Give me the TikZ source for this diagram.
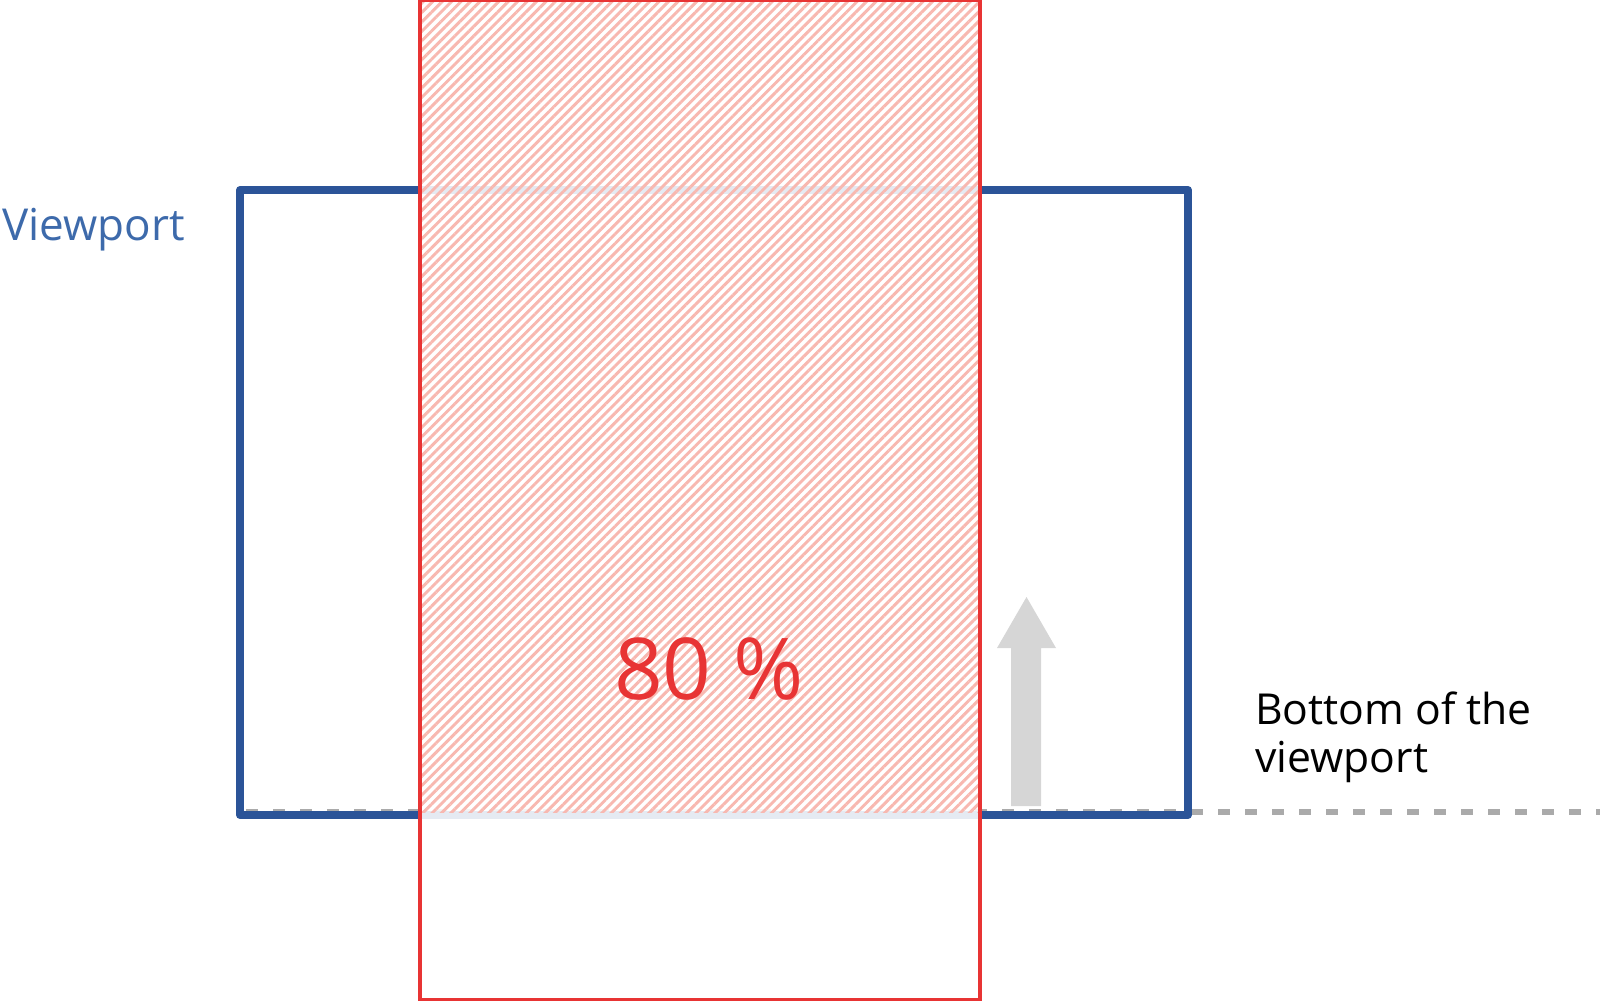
\documentclass[tikz,border=0pt]{standalone}
\usepackage{fontspec}
\setmainfont{Open Sans}
\usetikzlibrary{patterns.meta}

\definecolor{vpblue}{RGB}{43,84,152}
\definecolor{vptext}{RGB}{61,106,171}
\definecolor{zonered}{RGB}{232,52,52}
\definecolor{hatchpink}{RGB}{248,184,176}
\definecolor{arrowgrey}{RGB}{214,214,214}
\definecolor{dashgrey}{RGB}{170,170,170}

\begin{document}
\begin{tikzpicture}[x=0.75pt,y=0.75pt,yscale=-1,xscale=1]
        \useasboundingbox (0,0) rectangle (1600,1000);

        %Straight Lines [bottom line, dashed]
        \draw [color=dashgrey, line width=3.8pt, dash pattern=on 9pt off 11.25pt]   (246,812) -- (1600,812) ;
        %Shape: Rectangle [viewport]
        \draw [color=vpblue, line width=6pt, line join=round]   (240,190) -- (1188,190) -- (1188,815) -- (240,815) -- cycle ;

        %Shape: Rectangle [zone, fill]
        \fill [white, fill opacity=0.88]   (420,0) rectangle (980,820) ;
        \fill [pattern={Lines[angle=45,distance=5pt,line width=2.2pt]}, pattern color=hatchpink]   (420,0) rectangle (980,812) ;
        %Shape: Rectangle [zone, outline]
        \draw [color=zonered, line width=3.2pt]   (420,0) rectangle (980,1000) ;

        %Shape: Arrow [moving up]
        \fill [arrowgrey]   (1011,806) -- (1011,648) -- (997,648) -- (1026.5,597) -- (1056,648) -- (1041,648) -- (1041,806) -- cycle ;

        % Text Node
        \node (vp) [anchor=base west, inner sep=0pt, text=vptext, font=\fontsize{33}{40}\selectfont] at (2,240) {Viewport};
        % Text Node
        \node (pct) [anchor=base, inner sep=0pt, text=zonered, font=\fontsize{64}{72}\selectfont] at (709,699) {80 \%};
        % Text Node
        \node (btm) [anchor=base west, inner sep=0pt, align=left, font=\fontsize{32}{36}\selectfont] at (1255,772) {Bottom of the\\viewport};

        \end{tikzpicture}
\end{document}
